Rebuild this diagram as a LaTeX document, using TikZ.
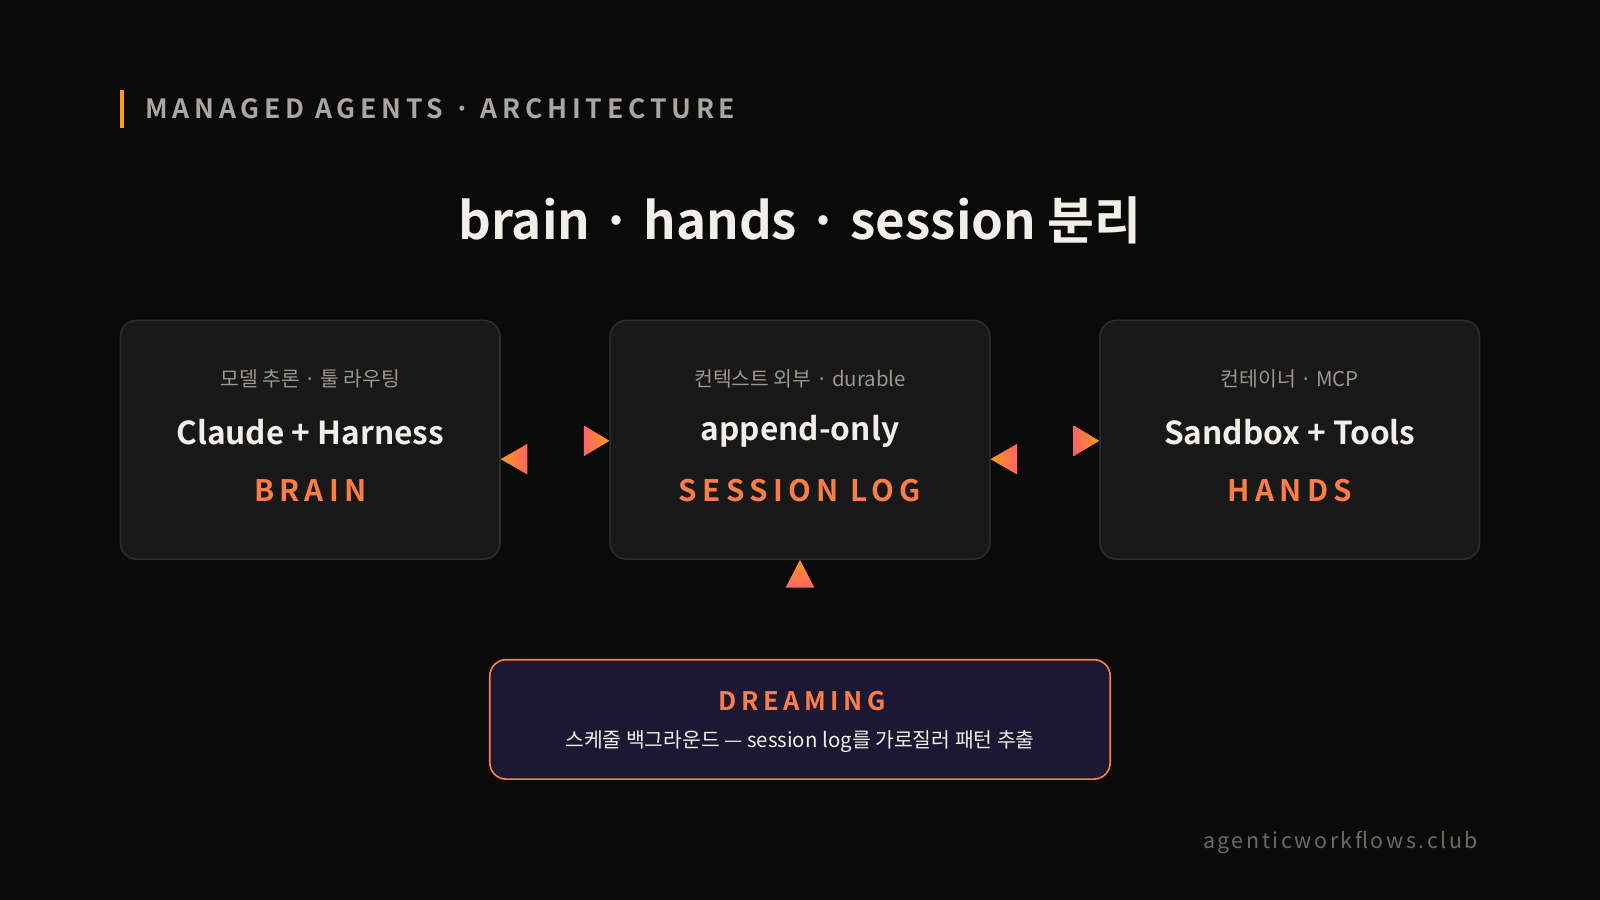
\documentclass[tikz,border=0pt]{standalone}
\usepackage{fontspec}
\setmainfont{Noto Sans CJK KR}
\newfontfamily\krb{Noto Sans CJK KR Bold}
\newfontfamily\krbsp[LetterSpace=18]{Noto Sans CJK KR Bold}
\newfontfamily\krsp[LetterSpace=12]{Noto Sans CJK KR}
\definecolor{bg}{HTML}{0A0A0A}
\definecolor{card}{HTML}{181818}
\definecolor{cardline}{HTML}{2E2E2E}
\definecolor{pinkc}{HTML}{FF6467}
\definecolor{orangec}{HTML}{FF9A1A}
\definecolor{midc}{HTML}{FF7E45}
\definecolor{cream}{HTML}{F2EFE8}
\definecolor{subg}{HTML}{9C968E}
\definecolor{navy}{HTML}{1C1733}
\begin{document}
\begin{tikzpicture}[x=1pt,y=-1pt,
  cardbox/.style={draw=cardline,line width=1.5pt,fill=card,rounded corners=16pt,minimum width=372pt,minimum height=234pt,inner sep=0pt},
  lab/.style={font=\krbsp\fontsize{29}{32}\selectfont,text=midc},
  mainl/.style={font=\krb\fontsize{31}{36}\selectfont,text=cream},
  subl/.style={font=\fontsize{20}{24}\selectfont,text=subg}]
\fill[bg] (0,0) rectangle (1568,882);
\useasboundingbox (0,0) rectangle (1568,882);
\fill[orangec] (118,88) rectangle (122,125);
\node[anchor=west,font=\krbsp\fontsize{26}{30}\selectfont,text=subg!85!white] (hdr) at (139,107) {MANAGED AGENTS · ARCHITECTURE};
\node[font=\krb\fontsize{50}{56}\selectfont,text=cream] (title) at (784,216) {brain · hands · session 분리};
\node[cardbox] (brain) at (304,431) {};
\node[cardbox] (sess) at (784,431) {};
\node[cardbox] (hands) at (1264,431) {};
\foreach \n/\a/\b/\c in {brain/BRAIN/Claude + Harness/모델 추론 · 툴 라우팅, sess/SESSION LOG/append-only/컨텍스트 외부 · durable, hands/HANDS/Sandbox + Tools/컨테이너 · MCP}{
  \node[lab] (\n-l) at ([yshift=-50pt]\n.center) {\a};
  \node[mainl] (\n-m) at ([yshift=8pt]\n.center) {\b};
  \node[subl] (\n-s) at ([yshift=60pt]\n.center) {\c};
}
\node[draw=midc,line width=1.6pt,fill=navy,rounded corners=16pt,minimum width=608pt,minimum height=117pt] (dream) at (784,705) {};
\node[lab,font=\krbsp\fontsize{25}{28}\selectfont] (dream-l) at (786,687) {DREAMING};
\node[font=\fontsize{20}{24}\selectfont,text=cream] (dream-s) at (784,727) {스케줄 백그라운드 — session log를 가로질러 패턴 추출};
\node[anchor=east,font=\krsp\fontsize{21}{24}\selectfont,text=subg!70!black] (foot) at (1452,826) {agenticworkflows.club};
% arrowheads of connectors
\coordinate (sL) at (sess.west |- 0,432);
\coordinate (bR) at (brain.east |- 0,450);
\coordinate (hL) at (hands.west |- 0,432);
\coordinate (sR) at (sess.east |- 0,450);
\coordinate (sB) at (sess.south);
\foreach \t in {sL,hL}{
  \shade[left color=pinkc,right color=orangec] ([shift={(-25,-15)}]\t) -- ([shift={(-25,15)}]\t) -- (\t) -- cycle;}
\foreach \t in {bR,sR}{
  \shade[left color=orangec,right color=pinkc] ([shift={(26,-15)}]\t) -- ([shift={(26,15)}]\t) -- (\t) -- cycle;}
\shade[top color=orangec,bottom color=pinkc] ([shift={(-14,27)}]sB) -- ([shift={(14,27)}]sB) -- (sB) -- cycle;
\end{tikzpicture}
\end{document}
